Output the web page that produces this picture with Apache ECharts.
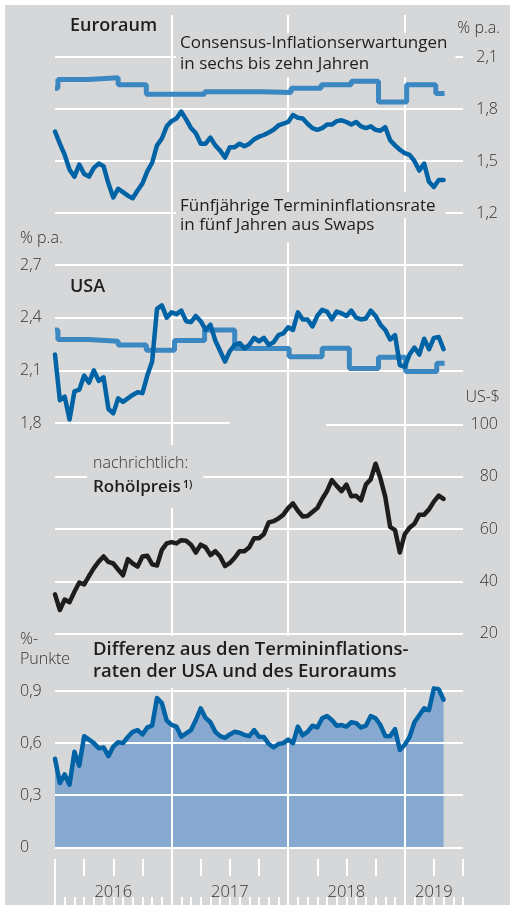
<!DOCTYPE html>
<html>
<head>
<meta charset="utf-8">
<script src="https://cdn.jsdelivr.net/npm/echarts@6/dist/echarts.min.js"></script>
<style>
html, body { margin: 0; padding: 0; background: #fff; }
#chart { width: 510px; height: 905px; }
</style>
</head>
<body>
<div id="chart"></div>
<script>
// x values are months since Jan 2016, forward rates sampled twice a month
const euroFwd = [
  1.67, 1.60, 1.535, 1.45, 1.41, 1.48, 1.425, 1.41, 1.46, 1.485,
  1.47, 1.37, 1.29, 1.34, 1.32, 1.30, 1.285, 1.33, 1.37, 1.44,
  1.49, 1.59, 1.63, 1.70, 1.73, 1.745, 1.785, 1.74, 1.69, 1.66,
  1.60, 1.60, 1.635, 1.59, 1.56, 1.52, 1.58, 1.58, 1.60, 1.585,
  1.60, 1.625, 1.64, 1.65, 1.665, 1.68, 1.705, 1.715, 1.725, 1.765,
  1.75, 1.745, 1.715, 1.69, 1.68, 1.69, 1.71, 1.71, 1.73, 1.735,
  1.725, 1.71, 1.725, 1.70, 1.69, 1.70, 1.68, 1.675, 1.695, 1.62,
  1.59, 1.565, 1.545, 1.535, 1.50, 1.445, 1.485, 1.38, 1.35, 1.39,
  1.39
];
const usFwd = [
  2.19, 1.93, 1.95, 1.82, 1.98, 1.99, 2.07, 2.03, 2.10, 2.04,
  2.06, 1.88, 1.855, 1.94, 1.92, 1.94, 1.96, 1.975, 1.97, 2.07,
  2.15, 2.45, 2.47, 2.40, 2.43, 2.42, 2.44, 2.38, 2.375, 2.41,
  2.38, 2.33, 2.36, 2.27, 2.21, 2.15, 2.21, 2.245, 2.255, 2.225,
  2.245, 2.285, 2.265, 2.285, 2.245, 2.26, 2.30, 2.31, 2.345, 2.33,
  2.43, 2.39, 2.39, 2.35, 2.41, 2.445, 2.435, 2.39, 2.435, 2.425,
  2.41, 2.44, 2.40, 2.39, 2.395, 2.44, 2.41, 2.36, 2.33, 2.275,
  2.30, 2.13, 2.12, 2.19, 2.23, 2.19, 2.28, 2.22, 2.285, 2.29,
  2.22
];
const oilPrice = [
  35, 29, 33, 32, 36, 39.5, 38.8, 42, 45, 47.5,
  49.5, 47.4, 46.8, 44.5, 42.3, 48.5, 46.8, 45.6, 49.5, 49.8,
  46.5, 46, 52, 54.5, 55, 54.5, 55.7, 55.5, 54, 51,
  54, 53, 50, 51.5, 49.5, 45.8, 47, 49, 51.5, 51.5,
  53, 56.5, 56.5, 58, 62.5, 63, 64, 65.5, 68, 69.8,
  67, 64.8, 65, 66.5, 68, 71.5, 74.5, 78.7, 76.5, 74.5,
  77, 72.5, 72.7, 71, 77, 79, 85, 79.4, 72.3, 60.8,
  59.6, 51, 58, 60.5, 62, 65.5, 65.5, 67.5, 70.5, 72.8,
  71.5
];
const spread = [
  0.51, 0.37, 0.42, 0.36, 0.55, 0.47, 0.64, 0.62, 0.60, 0.57,
  0.575, 0.525, 0.58, 0.605, 0.60, 0.635, 0.665, 0.675, 0.65, 0.69,
  0.70, 0.86, 0.83, 0.73, 0.705, 0.695, 0.637, 0.656, 0.675, 0.733,
  0.80, 0.745, 0.72, 0.665, 0.64, 0.63, 0.65, 0.665, 0.66, 0.647,
  0.64, 0.675, 0.637, 0.635, 0.595, 0.575, 0.595, 0.60, 0.62, 0.60,
  0.695, 0.645, 0.665, 0.70, 0.69, 0.743, 0.756, 0.733, 0.70, 0.704,
  0.695, 0.72, 0.715, 0.69, 0.70, 0.756, 0.743, 0.704, 0.641, 0.64,
  0.68, 0.56, 0.59, 0.635, 0.72, 0.76, 0.80, 0.79, 0.915, 0.91,
  0.85
];
const halfMonths = euroFwd.map((_, i) => i / 2);

// consensus survey values: month where a value starts, and the value
const euroConsMonths = [0, 0.3, 3.4, 6.5, 9.4, 15.4, 21.3, 24.3, 27.4, 30.5, 33.3, 36.2, 39.2, 40.1];
const euroConsValues = [1.92, 1.97, 1.98, 1.94, 1.885, 1.90, 1.895, 1.92, 1.94, 1.96, 1.84, 1.94, 1.89, 1.89];
const usConsMonths = [0, 0.3, 3.4, 6.5, 9.4, 12.3, 15.4, 18.5, 24.1, 27.5, 30.3, 33.3, 36.1, 39.3, 40.1];
const usConsValues = [2.33, 2.275, 2.265, 2.245, 2.215, 2.27, 2.33, 2.225, 2.178, 2.226, 2.11, 2.175, 2.093, 2.14, 2.14];

const years = ['2016', '2017', '2018', '2019'];
const yearLabelAt = [6, 18, 30, 39];

const FONT = "'Open Sans', sans-serif";
const BG = '#d6d7d9';
const LIGHT = '#3b87c1';
const DARK = '#0063a5';

function pairs(xs, ys) {
  return ys.map((v, i) => [xs[i], v]);
}
function comma(v) {
  return v === 0 ? '0' : v.toFixed(1).replace('.', ',');
}

const gridBase = { left: 55, right: 47 };
const grids = [
  { ...gridBase, top: 15, height: 882 },
  { ...gridBase, top: 57, height: 156 },
  { ...gridBase, top: 265, height: 158 },
  { ...gridBase, top: 424.5, height: 209 },
  { ...gridBase, top: 691, height: 156.3 },
  { ...gridBase, top: 859, height: 38 }
];

const white = { color: '#fff', width: 2 };
const labelStyle = { fontFamily: FONT, fontSize: 16, fontWeight: 300, color: '#333' };

function hiddenX(i) {
  return { gridIndex: i, type: 'value', min: 0, max: 42, show: false };
}
function valueY(i, pos, min, max, step, extra) {
  return Object.assign({
    gridIndex: i, type: 'value', position: pos, min: min, max: max, interval: step,
    axisLine: { show: false }, axisTick: { show: false },
    axisLabel: Object.assign({ margin: 35, align: pos === 'left' ? 'left' : 'right', formatter: comma }, labelStyle),
    splitLine: { lineStyle: white }
  }, extra || {});
}

// heading text or small light note text
function head(size, lh, weight) {
  return { fontFamily: FONT, fontSize: size, fontWeight: weight || 400, color: '#1e1e1e', lineHeight: lh || size + 2 };
}
function note(lh) {
  return { fontFamily: FONT, fontSize: 16, fontWeight: 300, color: '#333', lineHeight: lh || 17 };
}
function title(text, left, top, style, opts) {
  return Object.assign({ text: text, left: left, top: top, padding: 0, textStyle: style }, opts || {});
}

const option = {
  animation: false,
  graphic: [{
    type: 'rect', left: 5, top: 5, z: -100, silent: true,
    shape: { width: 505, height: 900 }, style: { fill: BG }
  }],
  title: [
    title('Euroraum', 70, 16, head(18, 20, 600)),
    title('% p.a.', null, 20, note(), { right: 10 }),
    title('Consensus-Inflationserwartungen\nin sechs bis zehn Jahren', 176, 33, head(17, 21),
      { padding: [0, 8, 2, 4], backgroundColor: BG }),
    title('Fünfjährige Termininflationsrate', 176, 192, head(17, 21),
      { padding: [4, 10, 1, 4], backgroundColor: BG }),
    title('in fünf Jahren aus Swaps', 176, 215, head(17, 21),
      { padding: [0, 4, 6, 4], backgroundColor: BG }),
    title('% p.a.', 20, 230, note()),
    title('USA', 70, 277, head(18, 20, 600)),
    title('US-$', null, 389, note(), { right: 10 }),
    title('nachrichtlich:', 87, 445, note(),
      { padding: [10, 15, 36, 6], backgroundColor: BG }),
    title('Rohölpreis', 93, 478, head(17, 19, 600), { z: 8 }),
    title('1)', 183, 479, head(10.5, 12, 600), { z: 8 }),
    title('%-\nPunkte', 20, 629, note(20)),
    title('Differenz aus den Termininflations-\nraten der USA und des Euroraums', 88, 636, head(18.5, 22.5, 600),
      { padding: [2, 10, 5, 5], backgroundColor: BG })
  ],
  grid: grids,
  xAxis: [
    {
      gridIndex: 0, type: 'value', min: 0, max: 42, interval: 12,
      axisLine: { show: false }, axisTick: { show: false }, axisLabel: { show: false },
      splitLine: { show: true, showMinLine: false, showMaxLine: false, lineStyle: white }
    },
    hiddenX(1), hiddenX(2), hiddenX(3), hiddenX(4),
    {
      gridIndex: 5, type: 'value', position: 'top', min: 0, max: 42, interval: 1,
      axisLine: { show: false }, splitLine: { show: false },
      axisTick: { inside: true, length: 11, lineStyle: white },
      axisLabel: {
        inside: true, margin: 25, fontSize: 16.5, fontFamily: FONT, fontWeight: 300, color: '#333',
        formatter: v => {
          const k = yearLabelAt.indexOf(v);
          return k < 0 ? '' : years[k];
        }
      }
    },
    {
      gridIndex: 5, type: 'value', position: 'top', min: 0, max: 42, interval: 3,
      axisLine: { show: false }, splitLine: { show: false }, axisLabel: { show: false },
      axisTick: { inside: true, length: 17, lineStyle: white }
    },
    {
      gridIndex: 5, type: 'value', position: 'top', min: 0, max: 42, interval: 12,
      axisLine: { show: false }, axisTick: { show: false }, axisLabel: { show: false },
      splitLine: { show: true, showMinLine: true, showMaxLine: false, lineStyle: white }
    }
  ],
  yAxis: [
    { gridIndex: 0, type: 'value', show: false },
    valueY(1, 'right', 1.2, 2.1, 0.3),
    valueY(2, 'left', 1.8, 2.7, 0.3, { splitLine: { showMinLine: false, lineStyle: white } }),
    valueY(3, 'right', 20, 100, 20, {
      splitLine: { showMaxLine: false, lineStyle: white },
      axisLabel: Object.assign({ margin: 35, align: 'right', formatter: v => String(v) }, labelStyle)
    }),
    valueY(4, 'left', 0, 0.9, 0.3),
    { gridIndex: 5, type: 'value', show: false }
  ],
  series: [
    {
      type: 'line', xAxisIndex: 1, yAxisIndex: 1, z: 3, step: 'end', symbol: 'none',
      data: pairs(euroConsMonths, euroConsValues),
      lineStyle: { color: LIGHT, width: 5 }
    },
    {
      type: 'line', xAxisIndex: 1, yAxisIndex: 1, z: 4, symbol: 'none',
      data: pairs(halfMonths, euroFwd),
      lineStyle: { color: DARK, width: 4.5, join: 'round', cap: 'round' }
    },
    {
      type: 'line', xAxisIndex: 2, yAxisIndex: 2, z: 3, step: 'end', symbol: 'none', clip: false,
      data: pairs(usConsMonths, usConsValues),
      lineStyle: { color: LIGHT, width: 5 },
      markLine: {
        silent: true, symbol: 'none', label: { show: false },
        lineStyle: { color: '#fff', width: 2, type: 'solid' },
        data: [[{ coord: [0, 1.8] }, { coord: [18, 1.8] }]]
      }
    },
    {
      type: 'line', xAxisIndex: 2, yAxisIndex: 2, z: 4, symbol: 'none',
      data: pairs(halfMonths, usFwd),
      lineStyle: { color: DARK, width: 4.5, join: 'round', cap: 'round' }
    },
    {
      type: 'line', xAxisIndex: 3, yAxisIndex: 3, z: 4, symbol: 'none', clip: false,
      data: pairs(halfMonths, oilPrice),
      lineStyle: { color: '#1d1d1b', width: 4.5, join: 'round', cap: 'round' },
      markLine: {
        silent: true, symbol: 'none', label: { show: false },
        lineStyle: { color: '#fff', width: 2, type: 'solid' },
        data: [[{ coord: [27.9, 100] }, { coord: [42, 100] }]]
      }
    },
    {
      type: 'line', xAxisIndex: 4, yAxisIndex: 4, z: -1, symbol: 'none', clip: false,
      data: pairs(halfMonths, spread),
      lineStyle: { width: 0 },
      areaStyle: { color: '#87a9d0', opacity: 1 }
    },
    {
      type: 'line', xAxisIndex: 4, yAxisIndex: 4, z: 4, symbol: 'none', clip: false,
      data: pairs(halfMonths, spread),
      lineStyle: { color: DARK, width: 4.5, join: 'round', cap: 'round' }
    }
  ]
};

const chart = echarts.init(document.getElementById('chart'), null, { renderer: 'canvas' });
chart.setOption(option);
</script>
</body>
</html>
